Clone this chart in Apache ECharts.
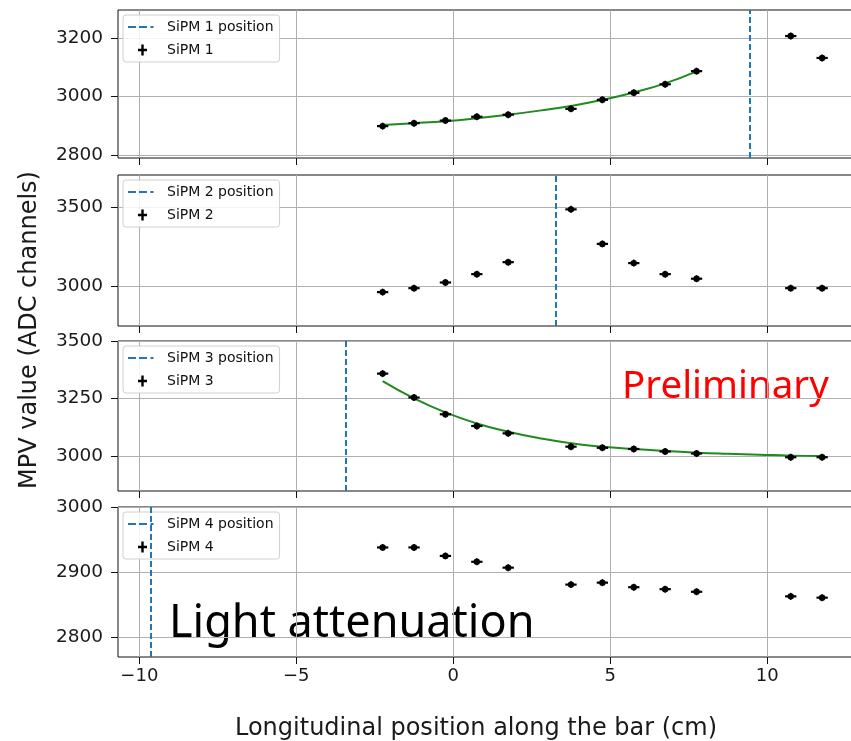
<!DOCTYPE html>
<html>
<head>
<meta charset="utf-8">
<script src="https://cdn.jsdelivr.net/npm/echarts@6/dist/echarts.min.js"></script>
<style>html,body{margin:0;padding:0;background:#fff}#c{width:851px;height:741px}</style>
</head>
<body>
<div id="c"></div>
<script>
// ---- data ----
const xPos = [-2.25, -1.25, -0.25, 0.75, 1.75, 3.75, 4.75, 5.75, 6.75, 7.75, 10.75, 11.75];
const xErr = 0.18;
const sipm1 = [2899, 2909, 2918, 2931, 2938, 2958, 2989, 3013, 3042, 3087, 3207, 3132];
const sipm2 = [2962, 2987, 3023, 3076, 3152, 3487, 3268, 3146, 3076, 3047, 2987, 2987];
const sipm3 = [3358, 3254, 3181, 3130, 3098, 3040, 3035, 3030, 3019, 3010, 2994, 2994];
const sipm4 = [2938, 2938, 2925, 2916, 2907, 2881, 2884, 2877, 2874, 2870, 2863, 2861];
const sipmPositions = [9.46, 3.28, -3.44, -9.64];

const fitX1 = [-2.25, -1.25, -0.25, 0.75, 1.75, 2.75, 3.75, 4.75, 5.75, 6.75, 7.75];
const fitY1 = [2903, 2909, 2916, 2926, 2938, 2952, 2968, 2989, 3014, 3045, 3086];
const fitX3 = [-2.25, -1.25, -0.25, 0.75, 1.75, 2.75, 3.75, 4.75, 5.75, 6.75, 7.75, 8.75, 9.75, 10.75, 11.75];
const fitY3 = [3325, 3250, 3189, 3141, 3105, 3077, 3055, 3040, 3030, 3021, 3014, 3009, 3005, 3001, 2999];

const xTicks = [-10, -5, 0, 5, 10];
const yTicks = [[2800, 3000, 3200], [3000, 3500], [3000, 3250, 3500], [2800, 2900, 3000]];
const yRanges = [[2790, 3296], [2747, 3705], [2847, 3500], [2770, 3000]];
const yIntervals = [200, 500, 250, 100];
const xRange = [-10.68, 13.02];
const xInterval = 5;

// ---- layout ----
const panels = [
  {top: 10, height: 148},
  {top: 175, height: 151},
  {top: 341, height: 150},
  {top: 507, height: 150}
];
const FONT = 'DejaVu Sans';
const sipmSeries = [sipm1, sipm2, sipm3, sipm4];
const fits = [[fitX1, fitY1], null, [fitX3, fitY3], null];

const dashIcon = 'path://M0,0L0.01,0Z M28,14L27.99,14Z M0,5.9h8v2.2h-8z M11,5.9h8v2.2h-8z M22.5,5.9h3v2.2h-3z';
const plusIcon = 'path://M0,0L0.01,0Z M28,14L27.99,14Z M10,5.8h9v2.4h-9z M13.3,1.6h2.4v10.8h-2.4z';

const grids = [], xAxes = [], yAxes = [], series = [], legends = [];
panels.forEach((p, i) => {
  grids.push({left: 118, width: 744, top: p.top, height: p.height, show: true,
    outerBoundsMode: 'none', containLabel: false,
    borderColor: '#111', borderWidth: 1, backgroundColor: 'transparent'});
  xAxes.push({type: 'value', gridIndex: i, min: xRange[0], max: xRange[1],
    minInterval: xInterval, maxInterval: xInterval, position: 'bottom',
    axisLine: {show: false, onZero: false},
    axisTick: {show: true, length: 7, inside: false, customValues: xTicks, lineStyle: {color: '#111'}},
    axisLabel: {show: i === 3, customValues: xTicks, fontFamily: FONT, fontSize: 18, color: '#1a1a1a', margin: 10,
      formatter: v => String(v).replace('-', '\u2212')},
    splitLine: {show: true, lineStyle: {color: '#b0b0b0', width: 1}}
  });
  yAxes.push({type: 'value', gridIndex: i, min: yRanges[i][0], max: yRanges[i][1],
    minInterval: yIntervals[i], maxInterval: yIntervals[i], position: 'left',
    axisLine: {show: false, onZero: false},
    axisTick: {show: true, length: 7, inside: false, customValues: yTicks[i], lineStyle: {color: '#111'}},
    axisLabel: {customValues: yTicks[i], fontFamily: FONT, fontSize: 18.5, color: '#1a1a1a', margin: 15,
      formatter: v => String(v)},
    splitLine: {show: true, lineStyle: {color: '#b0b0b0', width: 1}}
  });
  const posName = 'SiPM ' + (i + 1) + ' position';
  const ptName = 'SiPM ' + (i + 1);
  series.push({
    name: posName, type: 'line', xAxisIndex: i, yAxisIndex: i, data: [],
    itemStyle: {color: '#1f77b4'}, lineStyle: {color: '#1f77b4', type: [6, 3], width: 2},
    markLine: {silent: true, symbol: 'none', label: {show: false},
      lineStyle: {color: '#1f77b4', type: [6, 3], width: 2},
      data: [{xAxis: sipmPositions[i]}], animation: false}
  });
  if (fits[i]) {
    series.push({
      name: 'fit ' + (i + 1), type: 'line', xAxisIndex: i, yAxisIndex: i,
      data: fits[i][0].map((x, k) => [x, fits[i][1][k]]),
      smooth: 0.5, showSymbol: false, symbol: 'none',
      lineStyle: {color: '#1f8a1f', width: 2}, itemStyle: {color: '#1f8a1f'}, z: 3
    });
  }
  series.push({
    name: ptName, type: 'custom', xAxisIndex: i, yAxisIndex: i,
    itemStyle: {color: '#000'}, z: 4,
    data: xPos.map((x, k) => [x, sipmSeries[i][k]]),
    renderItem: (params, api) => {
      const x = api.value(0), y = api.value(1);
      const c = api.coord([x, y]);
      const l = api.coord([x - xErr, y]);
      const r = api.coord([x + xErr, y]);
      return {type: 'group', children: [
        {type: 'line', shape: {x1: l[0], y1: c[1], x2: r[0], y2: c[1]}, style: {stroke: '#000', lineWidth: 2.2}},
        {type: 'line', shape: {x1: c[0], y1: c[1] - 3.5, x2: c[0], y2: c[1] + 3.5}, style: {stroke: '#000', lineWidth: 1.5}},
        {type: 'circle', shape: {cx: c[0], cy: c[1], r: 3.2}, style: {fill: '#000'}}
      ]};
    }
  });
  legends.push({
    data: [{name: posName, icon: dashIcon}, {name: ptName, icon: plusIcon}],
    orient: 'vertical', left: 123, top: p.top + 5,
    itemWidth: 28, itemHeight: 14, itemGap: 9,
    padding: [5, 6, 5, 5],
    backgroundColor: 'rgba(255,255,255,0.85)', borderColor: '#d0d0d0', borderWidth: 1, borderRadius: 3,
    selectedMode: false,
    textStyle: {fontFamily: FONT, fontSize: 14, color: '#111', padding: [0, 0, 0, 6]}
  });
});

const chart = echarts.init(document.getElementById('c'), null, {renderer: 'canvas'});
chart.setOption({
  backgroundColor: '#fff',
  animation: false,
  grid: grids, xAxis: xAxes, yAxis: yAxes, series: series, legend: legends,
  graphic: [
    {type: 'text', x: 476, y: 729, style: {text: 'Longitudinal position along the bar (cm)', fontFamily: FONT,
      fontSize: 24, fill: '#1a1a1a', align: 'center', verticalAlign: 'middle'}},
    {type: 'text', x: 30, y: 330, rotation: Math.PI / 2, style: {text: 'MPV value (ADC channels)', fontFamily: FONT,
      fontSize: 24, fill: '#1a1a1a', align: 'center', verticalAlign: 'middle'}},
    {type: 'text', x: 622, y: 387, style: {text: 'Preliminary', fontFamily: 'Noto Sans',
      fontSize: 38.5, fill: '#ff0000', align: 'left', verticalAlign: 'middle'}},
    {type: 'text', x: 169, y: 624, style: {text: 'Light attenuation', fontFamily: 'Noto Sans',
      fontSize: 45, fill: '#000', align: 'left', verticalAlign: 'middle'}}
  ]
});
</script>
</body>
</html>
